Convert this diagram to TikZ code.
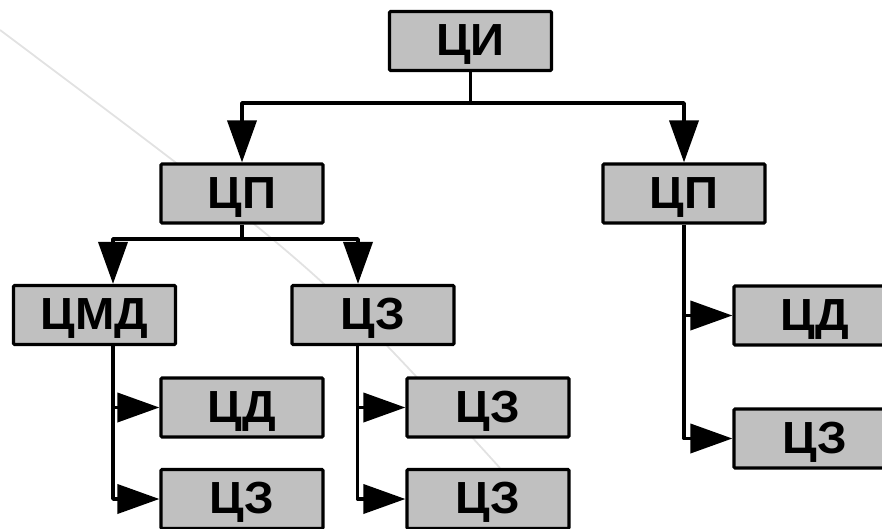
\documentclass[tikz,border=0pt]{standalone}
\usepackage{fontspec}
\setmainfont{Liberation Sans}
\newfontfamily\boxfont{Liberation Sans}[FakeStretch=1.05]
\usetikzlibrary{arrows.meta}
\definecolor{boxgray}{RGB}{192,192,192}
\definecolor{faint}{RGB}{226,226,226}
\tikzset{
  unit/.style={draw=black, fill=boxgray, line width=3.2pt, rounded corners=1.2pt,
    minimum width=162pt, minimum height=59pt, inner sep=0pt,
    font=\boxfont\fontsize{45}{45}\selectfont\bfseries, text height=32pt, text depth=3pt},
  link/.style={line width=3.8pt, line join=round},
  arr/.style={link, -{Triangle[length=42pt,width=29pt]}}
}
\begin{document}
\begin{tikzpicture}[x=1pt,y=-1pt]
\useasboundingbox (0,0) rectangle (882,529);
\clip (0,0) rectangle (882,529);
% faint background stroke
\draw[faint, line width=1.8pt] (0,30) .. controls (320,270) .. (500,468);
% nodes
\node[unit] (ci)   at (470.5,41)  {ЦИ};
\node[unit] (cpL)  at (242,193.5) {ЦП};
\node[unit] (cpR)  at (684,193.5) {ЦП};
\node[unit] (cmd)  at (94.5,315)  {ЦМД};
\node[unit] (cz1)  at (373,315)   {ЦЗ};
\node[unit] (cdL)  at (242,407.5) {ЦД};
\node[unit] (czL)  at (242,499)   {ЦЗ};
\node[unit] (czM1) at (488,407.5) {ЦЗ};
\node[unit] (czM2) at (488,499)   {ЦЗ};
\node[unit] (cdR)  at (815,315.5) {ЦД};
\node[unit] (czR)  at (815,438.5) {ЦЗ};
% junctions
\coordinate (j1) at (470.5,103);
\coordinate (j2) at (242,239);
\coordinate (v1) at ([xshift=18.5pt]cmd.south);
\coordinate (v2) at ([xshift=-15.5pt]cz1.south);
% top level
\draw[link] (ci.south) -- (j1);
\draw[arr] (j1) -| (cpL.north);
\draw[arr] (j1) -| (cpR.north);
% left ЦП
\draw[link] (cpL.south) -- (j2);
\draw[arr] (j2) -| ([xshift=18.5pt]cmd.north);
\draw[arr] (j2) -| ([xshift=-15pt]cz1.north);
% ЦМД column
\draw[arr] (v1) |- (czL.west);
\draw[arr] (v1 |- cdL.west) -- (cdL.west);
% ЦЗ column
\draw[arr] (v2) |- (czM2.west);
\draw[arr] (v2 |- czM1.west) -- (czM1.west);
% right ЦП column
\draw[arr] (cpR.south) |- (czR.west);
\draw[arr] (cpR.south |- cdR.west) -- (cdR.west);
\end{tikzpicture}
\end{document}
